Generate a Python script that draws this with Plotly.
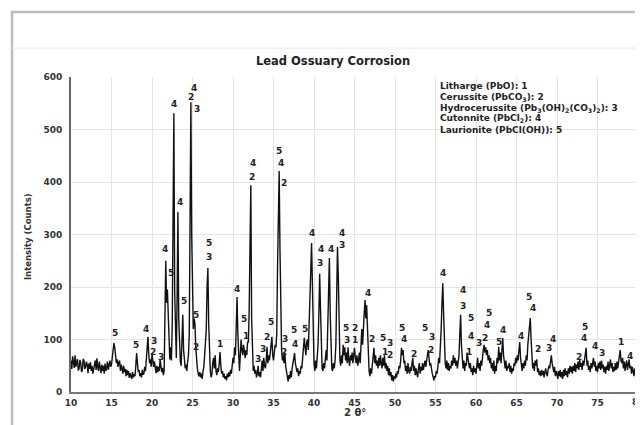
import numpy as np
import plotly.graph_objects as go

# 2-theta grid, 10 -> 80 deg in 0.1 deg steps
two_theta = np.round(np.arange(10, 80.001, 0.1), 1)

# intensity (counts), one row per 2 degrees
counts = [
    60, 44, 68, 50, 46, 70, 48, 56, 63, 41, 45, 61, 55, 38, 42, 63, 60, 44, 48, 58,            # 10
    52, 36, 54, 44, 57, 40, 50, 35, 47, 58, 60, 42, 64, 48, 40, 58, 44, 36, 52, 40,            # 12
    50, 35, 54, 40, 46, 58, 42, 55, 60, 48, 52, 66, 80, 93, 85, 68, 55, 62, 48, 56,            # 14
    60, 40, 52, 45, 35, 50, 38, 44, 30, 42, 32, 40, 27, 36, 30, 25, 38, 28, 34, 30,            # 16
    50, 74, 55, 38, 42, 30, 36, 28, 42, 33, 35, 48, 40, 58, 85, 105, 72, 55, 62, 48,           # 18
    72, 55, 48, 58, 40, 36, 50, 38, 48, 40, 62, 45, 38, 46, 32, 40, 120, 250, 170, 195,        # 20
    150, 75, 62, 85, 60, 130, 450, 531, 190, 85, 65, 180, 343, 140, 72, 58, 50, 95, 147, 80,   # 22
    60, 45, 52, 40, 58, 70, 110, 440, 552, 300, 150, 120, 140, 130, 85, 60, 45, 35, 30, 38,    # 24
    28, 35, 25, 40, 48, 70, 95, 120, 200, 236, 130, 60, 40, 28, 35, 55, 65, 45, 70, 40,        # 26
    32, 45, 38, 55, 76, 50, 35, 40, 28, 35, 25, 30, 22, 35, 28, 38, 30, 42, 35, 50,            # 28
    65, 55, 85, 70, 120, 181, 110, 60, 40, 70, 100, 80, 70, 90, 75, 65, 80, 70, 95, 95,        # 30
    160, 300, 394, 140, 60, 40, 50, 35, 42, 28, 35, 50, 30, 38, 28, 45, 60, 40, 65, 50,        # 32
    45, 60, 86, 55, 70, 60, 75, 90, 105, 70, 60, 75, 90, 85, 110, 240, 330, 421, 270, 110,     # 34
    80, 60, 70, 55, 75, 50, 40, 30, 20, 32, 25, 40, 28, 45, 55, 60, 74, 55, 45, 38,            # 36
    45, 30, 40, 35, 50, 45, 65, 80, 103, 85, 70, 95, 100, 80, 120, 160, 230, 284, 200, 90,     # 38
    55, 40, 60, 45, 70, 90, 150, 225, 160, 70, 45, 40, 55, 45, 60, 80, 60, 120, 200, 255,      # 40
    150, 60, 45, 40, 55, 45, 60, 90, 170, 276, 220, 120, 60, 50, 70, 55, 90, 70, 85, 60,       # 42
    75, 55, 85, 60, 50, 70, 60, 75, 55, 70, 84, 65, 55, 70, 50, 60, 75, 55, 90, 120,           # 44
    90, 140, 150, 175, 140, 165, 110, 70, 40, 30, 45, 35, 55, 70, 84, 55, 70, 50, 60, 45,      # 46
    65, 50, 70, 55, 45, 65, 50, 70, 45, 55, 40, 50, 32, 45, 30, 38, 22, 32, 20, 30,            # 48
    25, 35, 28, 40, 35, 50, 45, 60, 84, 70, 80, 55, 60, 40, 50, 35, 55, 40, 35, 48,            # 50
    40, 55, 65, 40, 50, 32, 45, 35, 28, 45, 55, 35, 48, 40, 55, 42, 50, 60, 48, 65,            # 52
    70, 80, 60, 50, 55, 40, 35, 30, 22, 30, 28, 40, 35, 50, 65, 55, 80, 120, 170, 207,         # 54
    150, 80, 55, 45, 60, 42, 55, 40, 50, 45, 60, 50, 70, 55, 65, 50, 60, 45, 55, 70,           # 56
    110, 147, 90, 50, 45, 60, 40, 55, 50, 75, 65, 55, 45, 55, 38, 45, 32, 50, 38, 45,          # 58
    35, 50, 65, 45, 55, 40, 60, 50, 70, 80, 90, 75, 85, 70, 80, 60, 70, 55, 65, 45,            # 60
    55, 40, 60, 35, 50, 40, 65, 55, 86, 60, 75, 55, 80, 103, 70, 55, 45, 60, 40, 50,           # 62
    45, 55, 38, 50, 35, 45, 40, 55, 50, 65, 55, 70, 60, 80, 95, 65, 45, 40, 55, 45,            # 64
    60, 50, 70, 60, 90, 110, 120, 141, 100, 60, 45, 55, 40, 60, 50, 62, 38, 45, 32, 40,        # 66
    30, 42, 32, 40, 28, 38, 45, 35, 30, 42, 50, 45, 60, 70, 55, 45, 38, 48, 30, 40,            # 68
    35, 25, 40, 30, 42, 28, 38, 25, 42, 30, 45, 32, 40, 28, 45, 35, 50, 38, 48, 35,            # 70
    50, 40, 55, 38, 52, 45, 58, 42, 62, 48, 55, 42, 60, 50, 60, 65, 84, 50, 60, 42,            # 72
    50, 38, 55, 45, 60, 65, 48, 58, 40, 50, 38, 55, 45, 58, 42, 60, 45, 52, 38, 48,            # 74
    35, 50, 42, 58, 40, 55, 62, 45, 55, 38, 48, 40, 55, 42, 58, 45, 60, 70, 80, 60,            # 76
    55, 65, 45, 58, 40, 52, 60, 42, 55, 62, 45, 50, 35, 48, 40, 30, 45, 35, 40, 30,            # 78
    35,                                                                                        # 80
]

# phase numbers written over the peaks
label_x = [15.4, 18.0, 19.3, 20.25, 20.1, 21.1, 21.6, 22.3, 22.7, 23.45, 23.95,
           25.2, 24.8, 25.55, 25.4, 25.4, 27.0, 27.0, 28.4, 30.5, 31.35, 31.6,
           33.1, 33.7, 34.2, 34.7, 32.5, 32.3, 35.7, 35.9, 36.3, 36.4, 36.3,
           37.5, 37.65, 38.9, 39.7, 40.85, 40.7, 42.1, 43.4, 43.4, 43.95, 44.05,
           45.1, 45.1, 46.7, 47.2, 48.55, 49.4, 48.8, 49.4, 50.9, 51.1, 52.35,
           53.7, 54.6, 54.4, 55.9, 58.4, 58.4, 59.4, 59.4, 59.1, 60.4, 61.1,
           61.4, 61.6, 62.85, 63.35, 65.55, 66.5, 67.0, 67.65, 69.0, 69.5,
           72.7, 73.5, 73.3, 74.7, 75.55, 77.9, 79.0]
label_y = [112, 90, 120, 97, 76, 66, 272, 227, 549, 362, 173,
           579, 562, 539, 147, 86, 283, 257, 91, 196, 139, 107,
           63, 82, 105, 133, 436, 410, 459, 436, 398, 101, 76,
           118, 91, 120, 303, 272, 246, 272, 303, 280, 122, 99,
           122, 99, 189, 101, 103, 93, 76, 71, 122, 101, 73,
           122, 105, 80, 226, 194, 164, 141, 107, 76, 93, 103,
           128, 150, 95, 118, 107, 181, 160, 82, 84, 101,
           67, 124, 103, 88, 74, 95, 69]
label_text = ['5', '5', '4', '3', '2', '3', '4', '5', '4', '4', '5',
              '4', '2', '3', '5', '2', '5', '3', '1', '4', '5', '1',
              '3', '3', '2', '5', '4', '2', '5', '4', '2', '3', '2',
              '5', '4', '5', '4', '4', '3', '4', '4', '3', '5', '3',
              '2', '1', '4', '2', '5', '3', '1', '2', '5', '4', '2',
              '5', '3', '2', '4', '4', '3', '5', '4', '1', '3', '2',
              '4', '5', '5', '4', '4', '5', '4', '2', '3', '4',
              '2', '5', '4', '4', '3', '1', '4']

phases = [
    'Litharge (PbO): 1',
    'Cerussite (PbCO<sub>3</sub>): 2',
    'Hydrocerussite (Pb<sub>3</sub>(OH)<sub>2</sub>(CO<sub>3</sub>)<sub>2</sub>): 3',
    'Cutonnite (PbCl<sub>2</sub>): 4',
    'Laurionite (PbCl(OH)): 5',
]

FONT = 'DejaVu Sans'
TICK_FONT = dict(family=FONT, size=9, color='#333333', weight='bold')

fig = go.Figure()
fig.add_trace(go.Scatter(
    x=two_theta, y=counts, mode='lines',
    line=dict(color='#111111', width=1.4),
    showlegend=False
))

annotations = []
for x, y, t in zip(label_x, label_y, label_text):
    annotations.append(dict(
        x=x, y=y, xref='x', yref='y', text=t, showarrow=False,
        xanchor='center', yanchor='middle',
        font=dict(family=FONT, size=9, color='#222222', weight='bold')
    ))

# phase key, one line each
key_y = [0.9708, 0.9355, 0.9006, 0.8667, 0.8317]
for txt, yy in zip(phases, key_y):
    annotations.append(dict(
        x=0.647, y=yy, xref='paper', yref='paper', text=txt, showarrow=False,
        xanchor='left', yanchor='middle',
        font=dict(family=FONT, size=9, color='#222222', weight='bold')
    ))

# axis titles
annotations.append(dict(
    x=-0.0758, y=0.492, xref='paper', yref='paper', text='Intensity (Counts)',
    showarrow=False, textangle=-90, xanchor='center', yanchor='middle',
    font=dict(family=FONT, size=8.5, color='#333333', weight='bold')
))
annotations.append(dict(
    x=0.5, y=-0.0635, xref='paper', yref='paper', text='2 θ°',
    showarrow=False, xanchor='center', yanchor='middle',
    font=dict(family=FONT, size=10, color='#333333', weight='bold')
))
# last x tick label sits on the cropped right edge
annotations.append(dict(
    x=80, y=-0.032, xref='x', yref='paper', text='80',
    showarrow=False, xanchor='center', yanchor='middle', font=TICK_FONT
))

# page body adds 8px, so the figure is 8px smaller than the window
fig.update_layout(
    width=635, height=417,
    margin=dict(l=63, r=5, t=69, b=33),
    paper_bgcolor='white', plot_bgcolor='white',
    title=dict(
        text='Lead Ossuary Corrosion', x=0.5118, y=0.8729,
        xanchor='center', yanchor='middle',
        font=dict(family=FONT, size=11.5, color='#222222', weight='bold')
    ),
    xaxis=dict(
        range=[10, 80], dtick=5, tick0=10,
        showgrid=True, gridcolor='#e4e4e4', gridwidth=1,
        showline=True, linecolor='#777777', linewidth=2,
        zeroline=False,
        ticks='outside', ticklen=1, tickcolor='rgba(0,0,0,0)',
        tickfont=TICK_FONT
    ),
    yaxis=dict(
        range=[0, 600], dtick=100,
        showgrid=True, gridcolor='#e4e4e4', gridwidth=1,
        showline=True, linecolor='#666666', linewidth=2,
        zeroline=False,
        ticks='outside', ticklen=5, tickcolor='rgba(0,0,0,0)',
        tickfont=TICK_FONT
    ),
    annotations=annotations,
    shapes=[
        dict(type='rect', xref='paper', yref='paper',
             x0=-0.104, x1=1.03, y0=-0.2, y1=1.206,
             line=dict(color='#bdbdbd', width=2.5), layer='below'),
        dict(type='line', xref='paper', yref='paper',
             x0=-0.104, x1=1.03, y0=1.092, y1=1.092,
             line=dict(color='#e6e6e6', width=1), layer='below'),
    ],
)

fig.write_html("out.html")
